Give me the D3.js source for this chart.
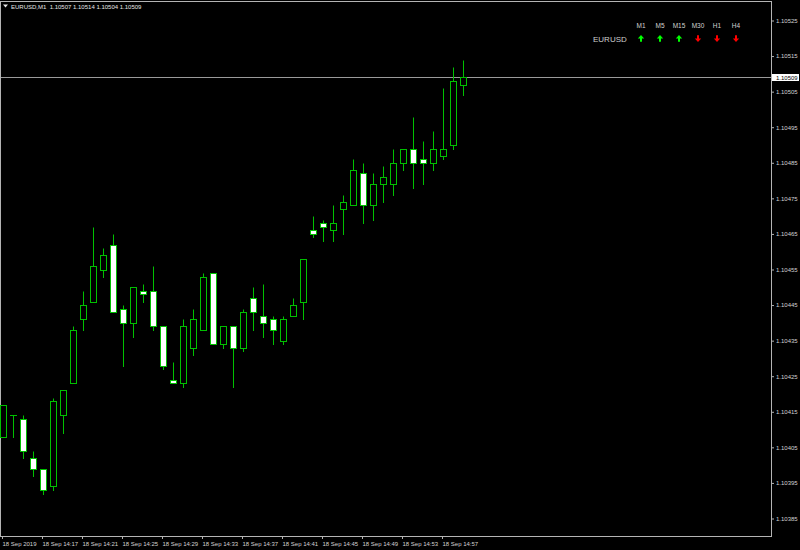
<!DOCTYPE html>
<html>
<head>
<meta charset="utf-8">
<script src="https://cdn.jsdelivr.net/npm/d3@7"></script>
<style>
html,body{margin:0;padding:0;background:#000;}
svg{display:block;}
text{font-family:"Liberation Sans",Arial,sans-serif;}
</style>
</head>
<body>
<div id="chart"></div>
<script>
// ---- data ----
const symbol = "EURUSD";
const period = "M1";
const minutes = ["14:13","14:14","14:15","14:16","14:17","14:18","14:19","14:20","14:21","14:22",
  "14:23","14:24","14:25","14:26","14:27","14:28","14:29","14:30","14:31","14:32",
  "14:33","14:34","14:35","14:36","14:37","14:38","14:39","14:40","14:41","14:42",
  "14:43","14:44","14:45","14:46","14:47","14:48","14:49","14:50","14:51","14:52",
  "14:53","14:54","14:55","14:56","14:57","14:58","14:59"];
const open  = [1.10408,1.10414,1.10413,1.10402,1.10399,1.10394,1.10414,1.10423,1.10441,1.10446,
  1.10455,1.10462,1.10444,1.10440,1.10449,1.10449,1.10439,1.10424,1.10423,1.10433,
  1.10438,1.10454,1.10434,1.10439,1.10433,1.10447,1.10442,1.10441,1.10435,1.10442,
  1.10446,1.10466,1.10468,1.10466,1.10472,1.10473,1.10482,1.10473,1.10479,1.10479,
  1.10485,1.10489,1.10486,1.10485,1.10487,1.10490,1.10507];
const high  = [1.10417,1.10414,1.10414,1.10404,1.10399,1.10419,1.10421,1.10439,1.10449,1.10467,
  1.10461,1.10465,1.10445,1.10450,1.10451,1.10456,1.10439,1.10429,1.10441,1.10444,
  1.10454,1.10454,1.10439,1.10439,1.10444,1.10450,1.10451,1.10442,1.10442,1.10447,
  1.10458,1.10470,1.10469,1.10473,1.10476,1.10486,1.10485,1.10482,1.10484,1.10489,
  1.10489,1.10498,1.10491,1.10494,1.10506,1.10512,1.10514];
const low   = [1.10408,1.10408,1.10402,1.10397,1.10392,1.10393,1.10409,1.10423,1.10438,1.10446,
  1.10453,1.10443,1.10428,1.10436,1.10446,1.10438,1.10427,1.10423,1.10422,1.10431,
  1.10438,1.10434,1.10433,1.10422,1.10432,1.10438,1.10436,1.10434,1.10434,1.10442,
  1.10441,1.10464,1.10463,1.10463,1.10465,1.10473,1.10468,1.10469,1.10474,1.10476,
  1.10483,1.10478,1.10479,1.10483,1.10486,1.10489,1.10504];
const close = [1.10417,1.10414,1.10404,1.10399,1.10393,1.10418,1.10421,1.10438,1.10445,1.10456,
  1.10459,1.10443,1.10440,1.10450,1.10448,1.10439,1.10428,1.10423,1.10439,1.10441,
  1.10453,1.10434,1.10439,1.10433,1.10443,1.10443,1.10440,1.10438,1.10441,1.10445,
  1.10458,1.10465,1.10467,1.10468,1.10474,1.10483,1.10473,1.10479,1.10481,1.10485,
  1.10489,1.10485,1.10485,1.10489,1.10489,1.10508,1.10509];
const yTicks = [1.10385,1.10395,1.10405,1.10415,1.10425,1.10435,1.10445,1.10455,
  1.10465,1.10475,1.10485,1.10495,1.10505,1.10515,1.10525];
const xTickIndex = [0,4,8,12,16,20,24,28,32,36,40,44];
const xTickLabels = ["18 Sep 2019","18 Sep 14:17","18 Sep 14:21","18 Sep 14:25","18 Sep 14:29",
  "18 Sep 14:33","18 Sep 14:37","18 Sep 14:41","18 Sep 14:45","18 Sep 14:49","18 Sep 14:53","18 Sep 14:57"];
const timeframes = ["M1","M5","M15","M30","H1","H4"];
const trend = [1,1,1,-1,-1,-1];

// ---- chart ----
const W = 800, H = 550;
const plotRight = 771, plotBottom = 536;
const candleColor = "#00c000";
const svg = d3.select("#chart").append("svg").attr("width", W).attr("height", H);
svg.append("rect").attr("width", W).attr("height", H).attr("fill", "#000");

const x = d3.scaleLinear().domain([0, minutes.length - 1]).range([3, 463]);
const y = d3.scaleLinear().domain([1.10385, 1.10525]).range([518.5, 20.5]);
const cy = v => Math.round(y(v)) + 0.5;

const data = minutes.map((m, i) => ({i, m, o: open[i], h: high[i], l: low[i], c: close[i]}));

// frame
svg.append("rect").attr("x", 0.5).attr("y", 1.5)
  .attr("width", plotRight).attr("height", plotBottom - 1)
  .attr("fill", "none").attr("stroke", "#b4b4b4").attr("stroke-width", 1);

// current price line
const last = close[close.length - 1];
svg.append("line").attr("x1", 1).attr("x2", plotRight)
  .attr("y1", cy(last)).attr("y2", cy(last))
  .attr("stroke", "#9a9a9a").attr("stroke-width", 1);

// candles
const g = svg.append("g");
const cs = g.selectAll("g.c").data(data).join("g").attr("class", "c");
cs.append("line")
  .attr("x1", d => x(d.i) + 0.5).attr("x2", d => x(d.i) + 0.5)
  .attr("y1", d => cy(d.h)).attr("y2", d => cy(d.l) + 0.5)
  .attr("stroke", candleColor).attr("stroke-width", 1);
cs.filter(d => d.o !== d.c).append("rect")
  .attr("x", d => x(d.i) - 3 + 0.5)
  .attr("y", d => cy(Math.max(d.o, d.c)))
  .attr("width", 6)
  .attr("height", d => cy(Math.min(d.o, d.c)) - cy(Math.max(d.o, d.c)))
  .attr("fill", d => d.c > d.o ? "#000" : "#fff")
  .attr("stroke", candleColor).attr("stroke-width", 1);
cs.filter(d => d.o === d.c).append("line")
  .attr("x1", d => x(d.i) - 3).attr("x2", d => x(d.i) + 4)
  .attr("y1", d => cy(d.o)).attr("y2", d => cy(d.o))
  .attr("stroke", candleColor).attr("stroke-width", 1);

// y axis
const yAxis = d3.axisRight(y).tickValues(yTicks).tickSize(3).tickPadding(2)
  .tickFormat(d3.format(".5f"));
const ya = svg.append("g").attr("transform", `translate(${plotRight},0)`).call(yAxis);
ya.select(".domain").remove();
ya.selectAll(".tick line").attr("stroke", "#b4b4b4");
ya.selectAll(".tick text").attr("fill", "#d2d2d2").attr("font-size", "6px")
  .attr("font-family", "Liberation Sans, Arial, sans-serif");

// x axis
const xAxis = d3.axisBottom(x).tickValues(xTickIndex).tickSize(3).tickPadding(2)
  .tickFormat((d, k) => xTickLabels[k]);
const xa = svg.append("g").attr("transform", `translate(-1,${plotBottom})`).call(xAxis);
xa.select(".domain").remove();
xa.selectAll(".tick line").attr("stroke", "#b4b4b4");
xa.selectAll(".tick text").attr("fill", "#d2d2d2").attr("font-size", "6px")
  .attr("text-anchor", "start").attr("dy", "0.9em")
  .attr("font-family", "Liberation Sans, Arial, sans-serif");

// current price label
const pl = svg.append("g").attr("transform", `translate(${plotRight + 1},${cy(last)})`);
pl.append("rect").attr("x", 0).attr("y", -3.5).attr("width", 27).attr("height", 7).attr("fill", "#fff");
pl.append("text").attr("x", 4).attr("y", 2.2).attr("font-size", "6px").attr("fill", "#000")
  .text(d3.format(".5f")(last));

// header
svg.append("path").attr("d", "M3,4.5L8,4.5L5.5,7.5Z").attr("fill", "#e6e6e6");
svg.append("text").attr("x", 11).attr("y", 9).attr("font-size", "6px").attr("fill", "#e6e6e6")
  .attr("xml:space", "preserve")
  .text(`${symbol},${period}  ${d3.format(".5f")(open[46])} ${d3.format(".5f")(high[46])} ${d3.format(".5f")(low[46])} ${d3.format(".5f")(last)}`);

// trend panel
const tx = d3.scalePoint().domain(timeframes).range([641, 736]);
svg.append("text").attr("x", 593).attr("y", 42).attr("font-size", "8px").attr("fill", "#cfcfcf")
  .text(symbol);
const tp = svg.selectAll("g.tf").data(timeframes).join("g").attr("class", "tf")
  .attr("transform", d => `translate(${tx(d)},0)`);
tp.append("text").attr("y", 27.5).attr("text-anchor", "middle").attr("font-size", "6.5px")
  .attr("fill", "#d2d2d2").text(d => d);
const arrow = "M0,-3.5L3.2,0L1,0L1,3.3L-1,3.3L-1,0L-3.2,0Z";
tp.append("path").attr("d", arrow)
  .attr("transform", (d, k) => `translate(0,38.5) scale(1,${trend[k] > 0 ? 1 : -1})`)
  .attr("fill", (d, k) => trend[k] > 0 ? "#00ff00" : "#ff0000");
</script>
</body>
</html>
